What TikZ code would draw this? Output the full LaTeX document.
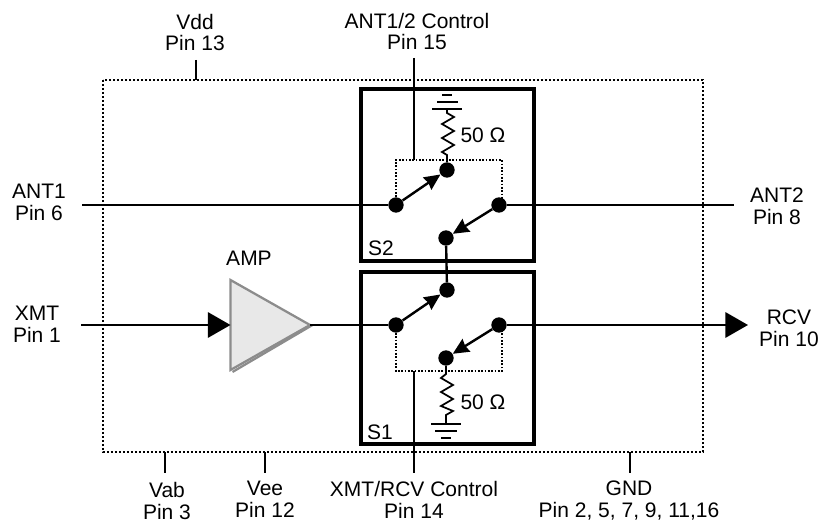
\documentclass[tikz,border=0pt]{standalone}
\usepackage{fontspec}
\setmainfont{Liberation Sans}
\usetikzlibrary{arrows.meta,calc}
\tikzset{
  px/.style={x=0.75pt,y=-0.75pt},
  wire/.style={line width=1.8pt,line cap=butt},
  framebox/.style={draw,line width=2.4pt,minimum width=129.75pt,minimum height=129pt,inner sep=0pt},
  outline/.style={draw,line width=1.8pt,dash pattern=on 1.6pt off 1.4pt},
  inner dots/.style={line width=1.2pt,dash pattern=on 1.2pt off 1.3pt},
  contact/.style={circle,fill=black,inner sep=0pt,minimum size=11.5pt},
  lbl/.style={font=\fontsize{15.75}{16.5}\selectfont,align=center,inner sep=0pt},
  sw/.style={line width=1.8pt,-{Stealth[length=12pt,width=11pt,inset=1pt]}},
  bigarrow/.style={line width=1.8pt,-{Triangle[length=17pt,width=19pt]}},
  gnd/.style={line width=1.7pt},
  res/.style={line width=1.3pt,line join=miter}
}
\begin{document}
\begin{tikzpicture}[px]
\useasboundingbox (0,0) rectangle (822,523);
% outer box
\coordinate (oTL) at (103,80); \coordinate (oBR) at (703,452);
\draw[outline] (oTL) rectangle (oBR);
% switch frames
\node[framebox] (S2box) at (447.5,175) {};
\node[framebox] (S1box) at (447.5,358) {};
% contacts
\node[contact] (s2l) at (396,205) {};
\node[contact] (s2t) at (447,170) {};
\node[contact] (s2r) at (499,205) {};
\node[contact] (s2b) at (446,238) {};
\node[contact] (s1t) at (447,290) {};
\node[contact] (s1l) at (396,325) {};
\node[contact] (s1r) at (499,325) {};
\node[contact] (s1b) at (446,358) {};
% dotted actuators
\coordinate (c2a) at (396,160); \coordinate (c2b) at (502,160);
\coordinate (c1a) at (396,371); \coordinate (c1b) at (502,371);
\coordinate (c2m) at (414,160); \coordinate (c1m) at (414,371);
\coordinate (c2e) at (502,205); \coordinate (c1e) at (502,325);
\draw[inner dots] (s2l) -- (c2a) -- (c2b) -- (c2e);
\draw[inner dots] (s1l) -- (c1a) -- (c1b) -- (c1e);
% switches
\draw[sw] (s2l) -- (s2t);
\draw[sw] (s2r) -- (s2b);
\draw[sw] (s1l) -- (s1t);
\draw[sw] (s1r) -- (s1b);
% amp
\node[lbl] (amplbl) at (249,258) {AMP};
\coordinate (ampA) at (230.5,280); \coordinate (ampB) at (230.5,370); \coordinate (ampT) at (310,325);
\fill[black!45] (232,371) -- (310,325) -- (313,326) -- (233,373) -- cycle;
\draw[line width=1.7pt,draw=black!45,fill=black!9,line join=miter] (ampA) -- (ampT) -- (ampB) -- cycle;
% signal lines
\coordinate (ant1e) at (82,205); \coordinate (ant2e) at (734,205);
\coordinate (xmte) at (81,325); \coordinate (rcve) at (748,325);
\draw[wire] (ant1e) -- (s2l);
\draw[wire] (s2r) -- (ant2e);
\draw[bigarrow] (xmte) -- (ampA |- xmte);
\draw[wire] (ampT) -- (s1l);
\draw[bigarrow] (s1r) -- (rcve);
\draw[wire] (s2b) -- (s1t);
% control + pin ticks
\coordinate (t2) at (414,58); \coordinate (t1) at (414,473);
\draw[wire] (t2) -- (c2m);
\draw[wire] (c1m) -- (t1);
\coordinate (vddA) at (196,60); \coordinate (vddB) at (196,80);
\draw[wire] (vddA) -- (vddB);
\coordinate (vabA) at (165,452); \coordinate (vabB) at (165,473);
\draw[wire] (vabA) -- (vabB);
\coordinate (veeA) at (265,452); \coordinate (veeB) at (265,473);
\draw[wire] (veeA) -- (veeB);
\coordinate (gndA) at (630,452); \coordinate (gndB) at (630,473);
\draw[wire] (gndA) -- (gndB);
% resistors and grounds
\coordinate (g2) at (447,109); \coordinate (g1) at (446,424);
\draw[res] (s2t) -- (447,155) -- (442,152) -- (454,145) -- (442,138) -- (454,131) -- (442,124) -- (454,117) -- (447,113) -- (g2);
\draw[res] (s1b) -- (446,374) -- (441,378) -- (453,385) -- (441,392) -- (453,399) -- (441,406) -- (453,411) -- (446,415) -- (g1);
\draw[gnd] (432,109) -- (462,109); \draw[gnd] (437,102) -- (458,102); \draw[gnd] (442,95) -- (452,95);
\draw[gnd] (431,424) -- (461,424); \draw[gnd] (435,431) -- (457,431); \draw[gnd] (441,438) -- (451,438);
% labels
\node[lbl] (l50a) at (483,135) {50 Ω};
\node[lbl] (l50b) at (483,402) {50 Ω};
\node[lbl] (ls2) at (381,248) {S2};
\node[lbl] (ls1) at (380,432) {S1};
\node[lbl] (lvdd) at (195,32.5) {Vdd\\Pin 13};
\node[lbl] (lc2) at (417,31.5) {ANT1/2 Control\\Pin 15};
\node[lbl] (lant1) at (39,202.5) {ANT1\\Pin 6};
\node[lbl] (lant2) at (777,206.5) {ANT2\\Pin 8};
\node[lbl] (lxmt) at (37,324.5) {XMT\\Pin 1};
\node[lbl] (lrcv) at (789,328.5) {RCV\\Pin 10};
\node[lbl] (lvab) at (167,500.5) {Vab\\Pin 3};
\node[lbl] (lvee) at (265,499.5) {Vee\\Pin 12};
\node[lbl] (lc1) at (414,500) {XMT/RCV Control\\Pin 14};
\node[lbl] (lgnd) at (629,500.5) {GND\\Pin 2, 5, 7, 9, 11,16};
\end{tikzpicture}
\end{document}
